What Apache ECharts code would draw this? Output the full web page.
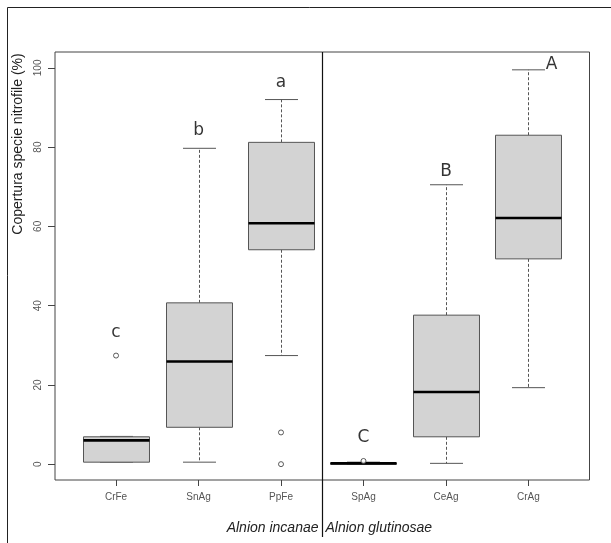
<!DOCTYPE html>
<html>
<head>
<meta charset="utf-8">
<script src="https://cdn.jsdelivr.net/npm/echarts@6/dist/echarts.min.js"></script>
<style>
  html, body { margin: 0; padding: 0; background: #fff; }
  #main { width: 611px; height: 543px; }
</style>
</head>
<body>
<div id="main"></div>
<script>
// categories and group labels
const categories = ['CrFe', 'SnAg', 'PpFe', 'SpAg', 'CeAg', 'CrAg'];
const groups = ['Alnion incanae', 'Alnion glutinosae'];
const yTicks = [0, 20, 40, 60, 80, 100];

// box statistics
const lowerWhisker = [0.5, 0.5, 27.4, 0, 0.2, 19.3];
const q1 = [0.5, 9.3, 54.1, 0, 6.9, 51.8];
const median = [6.0, 25.9, 60.8, 0.2, 18.2, 62.1];
const q3 = [6.9, 40.7, 81.2, 0.3, 37.6, 83.0];
const upperWhisker = [7.0, 79.7, 92.0, 0.5, 70.5, 99.5];

// outliers: [category index, value]
const outliers = [[0, 27.4], [2, 8.0], [2, 0], [3, 0.8]];

// significance letters and their heights
const letters = ['c', 'b', 'a', 'C', 'B', 'A'];
const letterY = [33.2, 84.1, 96.3, 6.8, 73.9, 100.8];

const boxData = categories.map((c, i) => [i + 1, lowerWhisker[i], q1[i], median[i], q3[i], upperWhisker[i]]);

function renderBox(params, api) {
  const x = api.value(0);
  const lo = api.coord([x, api.value(1)]);
  const b1 = api.coord([x, api.value(2)]);
  const md = api.coord([x, api.value(3)]);
  const b3 = api.coord([x, api.value(4)]);
  const hi = api.coord([x, api.value(5)]);
  const band = api.size([1, 0])[0];
  const bw = band * 0.8, cw = band * 0.4;
  const cx = Math.round(lo[0]) + 0.5;
  const dash = { stroke: '#555', lineWidth: 1, lineDash: [3, 2] };
  const solid = { stroke: '#555', lineWidth: 1 };
  return {
    type: 'group',
    children: [
      { type: 'line', shape: { x1: cx, y1: b3[1], x2: cx, y2: hi[1] }, style: dash },
      { type: 'line', shape: { x1: cx, y1: b1[1], x2: cx, y2: lo[1] }, style: dash },
      { type: 'line', shape: { x1: cx - cw / 2, y1: hi[1], x2: cx + cw / 2, y2: hi[1] }, style: solid },
      { type: 'line', shape: { x1: cx - cw / 2, y1: lo[1], x2: cx + cw / 2, y2: lo[1] }, style: solid },
      { type: 'rect', shape: { x: cx - bw / 2, y: b3[1], width: bw, height: b1[1] - b3[1] },
        style: { fill: '#d3d3d3', stroke: '#555', lineWidth: 1 } },
      { type: 'line', shape: { x1: cx - bw / 2, y1: md[1], x2: cx + bw / 2, y2: md[1] },
        style: { stroke: '#000', lineWidth: 2.6 } }
    ]
  };
}

const chart = echarts.init(document.getElementById('main'));

const option = {
  animation: false,
  grid: {
    left: 55, top: 52, right: 21.5, bottom: 63,
    show: true, borderColor: '#444', borderWidth: 1, backgroundColor: 'transparent'
  },
  xAxis: {
    type: 'value',
    min: 0.26,
    max: 6.74,
    splitLine: { show: false },
    axisLine: { show: false, onZero: false },
    axisTick: { show: true, customValues: [1, 2, 3, 4, 5, 6], length: 6, lineStyle: { color: '#444' } },
    axisLabel: {
      customValues: [1, 2, 3, 4, 5, 6],
      formatter: v => categories[Math.round(v) - 1],
      color: '#555', fontSize: 10, margin: 12, fontFamily: 'Liberation Sans'
    }
  },
  yAxis: {
    type: 'value',
    min: -4,
    max: 104,
    splitLine: { show: false },
    axisLine: { show: false, onZero: false },
    axisTick: { show: true, customValues: yTicks, length: 7, lineStyle: { color: '#444' } },
    axisLabel: {
      customValues: yTicks,
      rotate: 90,
      color: '#555', fontSize: 10, margin: 12, fontFamily: 'Liberation Sans'
    }
  },
  series: [
    {
      type: 'custom',
      renderItem: renderBox,
      encode: { x: 0, y: [1, 2, 3, 4, 5] },
      data: boxData,
      z: 2
    },
    {
      type: 'scatter',
      symbol: 'circle',
      symbolSize: 5,
      itemStyle: { color: '#fff', borderColor: '#333', borderWidth: 1 },
      data: outliers.map(o => [o[0] + 1, o[1]]),
      z: 3
    },
    {
      type: 'scatter',
      symbolSize: 0,
      label: {
        show: true,
        position: 'inside',
        formatter: p => letters[p.dataIndex],
        fontSize: 17,
        color: '#000',
        fontFamily: 'DejaVu Sans'
      },
      data: letters.map((l, i) => {
        const item = { value: [i + 1, letterY[i]] };
        if (l === 'A') item.label = { offset: [23, 0] };
        return item;
      }),
      z: 4
    }
  ]
};

chart.setOption(option);

// divider between the two alliances and the group names below the axis
const divTop = chart.convertToPixel({ gridIndex: 0 }, [3.5, 104]);
const dx = Math.round(divTop[0]) + 0.5;
chart.setOption({
  graphic: [
    { type: 'rect', shape: { x: 7.5, y: 7.5, width: 700, height: 700 },
      style: { fill: 'none', stroke: '#222', lineWidth: 1 } },
    { type: 'line', shape: { x1: dx, y1: divTop[1], x2: dx, y2: 537 },
      style: { stroke: '#111', lineWidth: 1.2 } },
    { type: 'text', x: dx - 4, y: 528,
      style: { text: groups[0], textAlign: 'right', textVerticalAlign: 'middle',
        font: 'italic 14px "Liberation Sans"', fill: '#222' } },
    { type: 'text', x: dx + 3, y: 528,
      style: { text: groups[1], textAlign: 'left', textVerticalAlign: 'middle',
        font: 'italic 14px "Liberation Sans"', fill: '#222' } },
    { type: 'text', x: 18, y: 144, rotation: Math.PI / 2,
      style: { text: 'Copertura specie nitrofile (%)', textAlign: 'center', textVerticalAlign: 'middle',
        font: '14px "Liberation Sans"', fill: '#222' } }
  ]
});
</script>
</body>
</html>
